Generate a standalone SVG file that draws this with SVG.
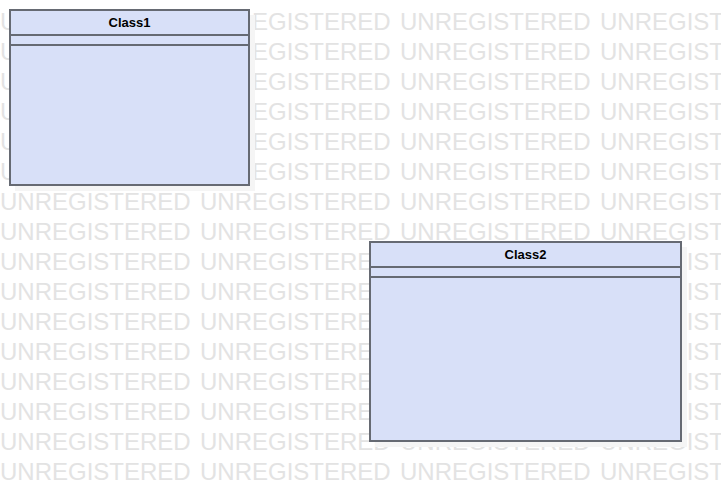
<svg xmlns="http://www.w3.org/2000/svg" width="721" height="481" viewBox="0 0 721 481">
<style>
.wm{font-family:"Liberation Sans",Arial,sans-serif;font-size:24px;fill:#e3e3e3}
.box{fill:#d8e0f8;stroke:#666a73;stroke-width:2}
.sh{fill:#f5f5f5}
.ln{stroke:#666a73;stroke-width:2}
.t{font-family:"Liberation Sans",Arial,sans-serif;font-size:13px;font-weight:bold;fill:#000;text-anchor:middle}
</style>
<defs>
<g id="wmrow">
<text class="wm" x="0" y="0">UNREGISTERED</text>
<text class="wm" x="200" y="0">UNREGISTERED</text>
<text class="wm" x="400" y="0">UNREGISTERED</text>
<text class="wm" x="600" y="0">UNREGISTERED</text>
</g>
</defs>
<rect x="0" y="0" width="721" height="481" fill="#ffffff"/>
<g id="watermark">
<use href="#wmrow" y="30"/><use href="#wmrow" y="60"/><use href="#wmrow" y="90"/><use href="#wmrow" y="120"/>
<use href="#wmrow" y="150"/><use href="#wmrow" y="180"/><use href="#wmrow" y="210"/><use href="#wmrow" y="240"/>
<use href="#wmrow" y="270"/><use href="#wmrow" y="300"/><use href="#wmrow" y="330"/><use href="#wmrow" y="360"/>
<use href="#wmrow" y="390"/><use href="#wmrow" y="420"/><use href="#wmrow" y="450"/><use href="#wmrow" y="480"/>
</g>
<g id="connectors"></g>
<g id="Class1">
<rect class="sh" x="15" y="15" width="240" height="176"/>
<rect class="box" x="10" y="10" width="239" height="175"/>
<line class="ln" x1="10" y1="35" x2="249" y2="35"/>
<line class="ln" x1="10" y1="45" x2="249" y2="45"/>
<text class="t" x="129.5" y="27">Class1</text>
</g>
<g id="Class2">
<rect class="sh" x="375" y="247" width="312" height="200"/>
<rect class="box" x="370" y="242" width="311" height="199"/>
<line class="ln" x1="370" y1="267" x2="681" y2="267"/>
<line class="ln" x1="370" y1="277" x2="681" y2="277"/>
<text class="t" x="525.5" y="259">Class2</text>
</g>
</svg>
